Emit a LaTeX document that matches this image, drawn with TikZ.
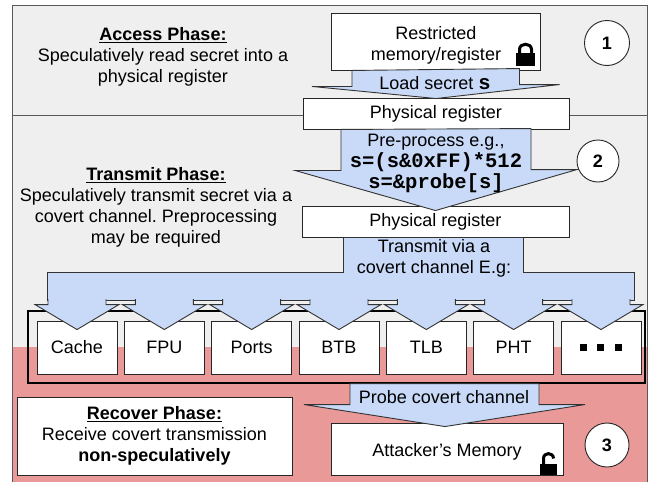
\documentclass[tikz,border=0pt]{standalone}
\usepackage{fontspec}
\setmainfont{Liberation Sans}
\newfontfamily\codefont{Liberation Mono}
\usetikzlibrary{shapes,arrows}
\definecolor{phasegray}{HTML}{EFEFEF}
\definecolor{phasepink}{HTML}{EA9999}
\definecolor{flowblue}{HTML}{C9DAF8}
\definecolor{edgegray}{HTML}{595959}
\newcommand\regcode[1]{{\codefont\bfseries\fontsize{20.5}{21}\selectfont #1}}
\frenchspacing

\begin{document}
\begin{tikzpicture}[x=1pt, y=-1pt, font=\fontsize{18}{21}\selectfont]
\tikzset{regbox/.style={rectangle, draw=black!85, fill=white,
                        line width=0.9pt, inner sep=0pt, align=center},
         chanbox/.style={regbox, minimum width=80pt, minimum height=53pt},
         flowarrow/.style={draw=black!80, fill=flowblue, line width=0.9pt},
         flowtext/.style={align=center, inner sep=0pt},
         phasetext/.style={align=center, inner sep=0pt},
         numcircle/.style={circle, draw=black!85, fill=white, line width=0.9pt,
                           inner sep=0pt, font=\fontsize{18}{21}\selectfont\bfseries}}
\useasboundingbox (0,0) rectangle (654,482);

% phases
\fill[phasegray] (12,5) rectangle (647,347);
\fill[phasepink] (12,347) rectangle (647,482);
\draw[edgegray, line width=0.9pt] (12,115) -- (647,115);
\draw[edgegray, line width=0.9pt] (12,482) -- (12,5) -- (647,5) -- (647,482);

\node(access) [phasetext] at (163,57)
  {\underline{\textbf{Access Phase:}}\\
   Speculatively read secret into a\\
   physical register};
\node(transmit) [phasetext] at (156,207)
  {\underline{\textbf{Transmit Phase:}}\\
   Speculatively transmit secret via a\\
   covert channel. Preprocessing\\
   may be required};
\node(recover) [regbox, minimum width=275pt, minimum height=78pt] at (154.5,436)
  {\underline{\textbf{Recover Phase:}}\\
   Receive covert transmission\\
   \textbf{non-speculatively}};

% registers
\node(restricted) [regbox, minimum width=209pt, minimum height=57pt] at (435.5,41.5) {};
\node(phys1) [regbox, minimum width=266pt, minimum height=31pt] at (436,113.5)
  {Physical register};
\node(phys2) [regbox, minimum width=267pt, minimum height=31pt] at (435.5,221.5)
  {Physical register};
\node(attacker) [regbox, minimum width=232pt, minimum height=52pt] at (447,449) {};

% covert channels
\node(channels) [draw=black, line width=1.6pt, minimum width=617pt,
                 minimum height=72pt, inner sep=0pt] at (336.5,347) {};
\node(cache) [chanbox] at (77,347.5) {Cache};
\node(fpu) [chanbox, right of=cache, node distance=87.33pt] {FPU};
\node(ports) [chanbox, right of=fpu, node distance=87.33pt] {Ports};
\node(btb) [chanbox, right of=ports, node distance=87.33pt] {BTB};
\node(tlb) [chanbox, right of=btb, node distance=87.33pt] {TLB};
\node(pht) [chanbox, right of=tlb, node distance=87.33pt] {PHT};
\node(more) [chanbox, right of=pht, node distance=87.33pt]
  {\rule{7pt}{7pt}\hspace{10.5pt}\rule{7pt}{7pt}\hspace{10.5pt}\rule{7pt}{7pt}};

% flows
\draw[flowarrow] ([xshift=-83.5pt]restricted.south) -- ++(0,16) -- ++(-40,0)
  -- ([yshift=-1pt]phys1.north) -- ++(123.5,-14) -- ++(-40,0) -- ++(0,-16) -- cycle;
\draw[flowarrow] ([xshift=-95pt]phys1.south) -- ++(0,41) -- ++(-46,0)
  -- ([yshift=-5pt]phys2.north) -- ++(141.5,-41) -- ++(-46,0) -- ++(0,-41) -- cycle;
\draw[flowarrow] ([xshift=-92.5pt]phys2.south) -- ++(0,35) -- ++(-296,0) -- ++(0,28)
  -- ++(587,0) -- ++(0,-28) -- ++(-111,0) -- ++(0,-35) -- cycle;
\foreach \c in {cache,fpu,ports,btb,tlb,pht,more}
  \draw[flowarrow] ([xshift=-29pt,yshift=36pt]\c.north) -- ++(0,20) -- ++(-13,0)
    -- ([yshift=-9pt]\c.north) -- ++(42,-25) -- ++(-13,0) -- ++(0,-20) -- cycle;
\fill[flowblue] (47.6,272.6) rectangle (633.4,299.4);
\draw[flowarrow] ([xshift=-97pt,yshift=39pt]attacker.north) -- ++(0,21) -- ++(-46,0)
  -- ([xshift=-2pt,yshift=-4pt]attacker.north) -- ++(140,-22) -- ++(-46,0) -- ++(0,-21) -- cycle;

\node(load) [flowtext] at (435,83) {Load secret \regcode{s}};
\node(prep) [flowtext] at (436,163)
  {Pre-process e.g.,\\\regcode{s=(s\&0xFF)*512}\\\regcode{s=\&probe[s]}};
\node(send) [flowtext] at (434,258) {Transmit via a\\covert channel E.g:};
\node(probe) [flowtext] at (444,397) {Probe covert channel};

\node(secret) [flowtext] at (436,45) {Restricted\\memory/register};
\node(mem) [flowtext] at (447,451.5) {Attacker’s Memory};

\node(one) [numcircle, minimum size=45pt] at (607,43) {1};
\node(two) [numcircle, minimum size=42pt] at (598,161) {2};
\node(three) [numcircle, minimum size=44pt] at (607,445) {3};

% locks
\fill[black] (516,53) rectangle (535,66);
\draw[line width=3pt] (519.5,54) -- (519.5,49.5)
  .. controls (519.5,42.5) and (531.5,42.5) .. (531.5,49.5) -- (531.5,54);
\fill[black] (540,464) rectangle (557,475);
\draw[line width=3pt] (543.5,465) -- (543.5,458.5)
  .. controls (543.5,452) and (553.5,452) .. (553.5,458.5);

\end{tikzpicture}
\end{document}
